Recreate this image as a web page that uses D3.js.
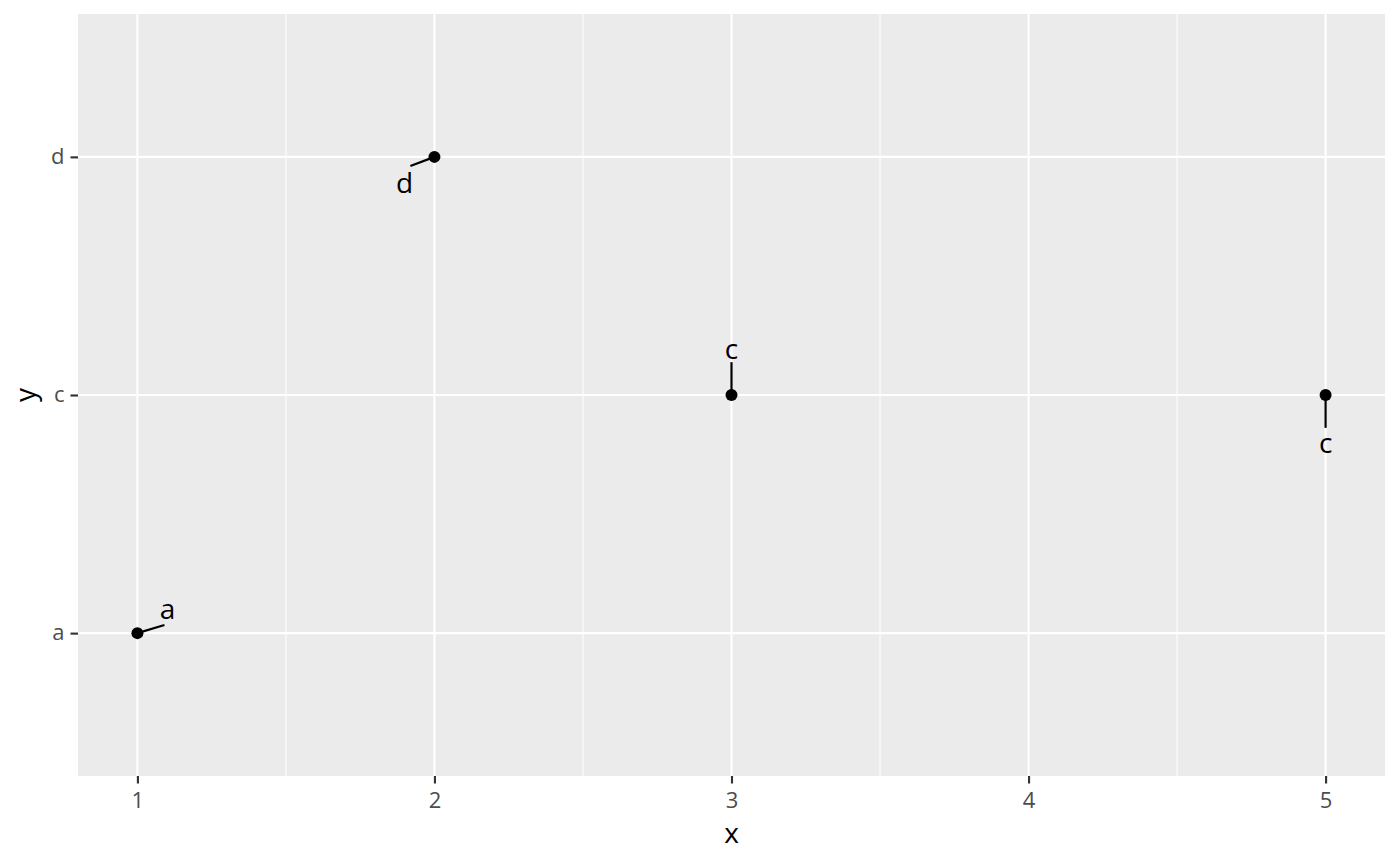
<!DOCTYPE html>
<html>
<head>
<meta charset="utf-8">
<script src="https://cdn.jsdelivr.net/npm/d3@7"></script>
<style>
  body { margin: 0; background: #fff; }
  svg { display: block; font-family: "Open Sans", "Noto Sans", sans-serif; }
</style>
</head>
<body>
<svg id="chart"></svg>
<script>
// points
const xs = [1, 2, 3, 5];
const ys = ["a", "d", "c", "c"];
const yLevels = ["a", "c", "d"];
// repelled label positions (data units, y as level index 1..n)
const labelX = [1.101, 1.899, 3.0, 5.0];
const labelY = [1.092, 2.878, 2.184, 1.790];
// where each repel segment stops (data units)
const segX = [1.091, 1.919, 3.0, 5.0];
const segY = [1.034, 2.962, 2.138, 1.862];
const xTicks = [1, 2, 3, 4, 5];
const xMinor = [1.5, 2.5, 3.5, 4.5];

const width = 1400;
const height = 866;
const margin = { top: 14, right: 15, bottom: 90, left: 78 };
const font = "'Open Sans', 'Noto Sans', sans-serif";

const svg = d3.select("#chart").attr("width", width).attr("height", height);
const innerWidth = width - margin.left - margin.right;
const innerHeight = height - margin.top - margin.bottom;

const g = svg.append("g").attr("transform", `translate(${margin.left},${margin.top})`);

const xScale = d3.scaleLinear().domain([0.8, 5.2]).range([0, innerWidth]);
// discrete y: levels at 1..n, expanded by 0.6
const yScale = d3.scaleLinear().domain([0.4, yLevels.length + 0.6]).range([innerHeight, 0]);
const yPos = (lvl) => yScale(yLevels.indexOf(lvl) + 1);

// panel
g.append("rect").attr("width", innerWidth).attr("height", innerHeight).attr("fill", "#ebebeb");

// minor grid
g.selectAll(".minor-x").data(xMinor).enter().append("line")
  .attr("x1", (d) => xScale(d)).attr("x2", (d) => xScale(d))
  .attr("y1", 0).attr("y2", innerHeight)
  .attr("stroke", "#fff").attr("stroke-width", 1.07);

// major grid
g.selectAll(".major-x").data(xTicks).enter().append("line")
  .attr("x1", (d) => xScale(d)).attr("x2", (d) => xScale(d))
  .attr("y1", 0).attr("y2", innerHeight)
  .attr("stroke", "#fff").attr("stroke-width", 2.13);

g.selectAll(".major-y").data(yLevels).enter().append("line")
  .attr("x1", 0).attr("x2", innerWidth)
  .attr("y1", (d) => yPos(d)).attr("y2", (d) => yPos(d))
  .attr("stroke", "#fff").attr("stroke-width", 2.13);

// axes
const xAxis = g.append("g").attr("transform", `translate(0,${innerHeight})`)
  .call(d3.axisBottom(xScale).tickValues(xTicks).tickFormat(d3.format("d")).tickSize(7.5).tickPadding(6));
const yAxis = g.append("g")
  .call(d3.axisLeft(yScale).tickValues(yLevels.map((d, i) => i + 1)).tickFormat((d) => yLevels[d - 1]).tickSize(7.5).tickPadding(6));

[xAxis, yAxis].forEach((ax) => {
  ax.attr("font-family", null).attr("font-size", null);
  ax.select(".domain").remove();
  ax.selectAll(".tick line").attr("stroke", "#333").attr("stroke-width", 2.13);
  ax.selectAll(".tick text").attr("fill", "#4d4d4d").style("font-family", font).style("font-size", "22px");
});
xAxis.selectAll(".tick text").attr("y", 32).attr("dy", 0);
yAxis.selectAll(".tick text").attr("dy", "0.3em");

// axis titles
svg.append("text")
  .attr("x", margin.left + innerWidth / 2)
  .attr("y", 843)
  .attr("text-anchor", "middle")
  .style("font-size", "28px")
  .text("x");

svg.append("text")
  .attr("transform", "rotate(-90)")
  .attr("x", -(margin.top + innerHeight / 2))
  .attr("y", 35)
  .attr("text-anchor", "middle")
  .style("font-size", "28px")
  .text("y");

const data = xs.map((x, i) => ({ x, y: ys[i], lx: labelX[i], ly: labelY[i], sx: segX[i], sy: segY[i] }));

// segments
g.selectAll(".seg").data(data).enter().append("line")
  .attr("x1", (d) => xScale(d.x))
  .attr("y1", (d) => yPos(d.y))
  .attr("x2", (d) => xScale(d.sx))
  .attr("y2", (d) => yScale(d.sy))
  .attr("stroke", "#000")
  .attr("stroke-width", 2.2);

// labels
g.selectAll(".lab").data(data).enter().append("text")
  .attr("x", (d) => xScale(d.lx))
  .attr("y", (d) => yScale(d.ly))
  .attr("dy", "0.27em")
  .attr("text-anchor", "middle")
  .style("font-size", "28px")
  .attr("fill", "#000")
  .text((d) => d.y);

// points
g.selectAll(".pt").data(data).enter().append("circle")
  .attr("cx", (d) => xScale(d.x))
  .attr("cy", (d) => yPos(d.y))
  .attr("r", 6)
  .attr("fill", "#000");
</script>
</body>
</html>
